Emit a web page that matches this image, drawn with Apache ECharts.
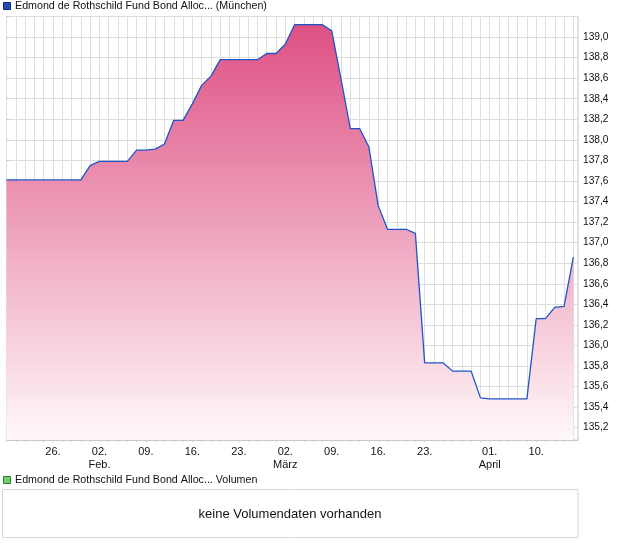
<!DOCTYPE html>
<html>
<head>
<meta charset="utf-8">
<script src="https://cdn.jsdelivr.net/npm/echarts@6/dist/echarts.min.js"></script>
<style>
html,body{margin:0;padding:0;background:#fff;}
#chart{width:620px;height:546px;}
</style>
</head>
<body>
<div id="chart"></div>
<script>
var seriesName = 'Edmond de Rothschild Fund Bond Alloc... (München)';
var volumeName = 'Edmond de Rothschild Fund Bond Alloc... Volumen';
var noVolumeText = 'keine Volumendaten vorhanden';

var dates = [
  '2026-01-19','2026-01-20','2026-01-21','2026-01-22','2026-01-23',
  '2026-01-26','2026-01-27','2026-01-28','2026-01-29','2026-01-30',
  '2026-02-02','2026-02-03','2026-02-04','2026-02-05','2026-02-06',
  '2026-02-09','2026-02-10','2026-02-11','2026-02-12','2026-02-13',
  '2026-02-16','2026-02-17','2026-02-18','2026-02-19','2026-02-20',
  '2026-02-23','2026-02-24','2026-02-25','2026-02-26','2026-02-27',
  '2026-03-02','2026-03-03','2026-03-04','2026-03-05','2026-03-06',
  '2026-03-09','2026-03-10','2026-03-11','2026-03-12','2026-03-13',
  '2026-03-16','2026-03-17','2026-03-18','2026-03-19','2026-03-20',
  '2026-03-23','2026-03-24','2026-03-25','2026-03-26','2026-03-27',
  '2026-03-30','2026-03-31',
  '2026-04-01','2026-04-02','2026-04-07','2026-04-08','2026-04-09',
  '2026-04-10','2026-04-13','2026-04-14','2026-04-15','2026-04-16'
];

var prices = [
  137.61,137.61,137.61,137.61,137.61,
  137.61,137.61,137.61,137.61,137.75,
  137.79,137.79,137.79,137.79,137.90,
  137.90,137.91,137.96,138.19,138.19,
  138.35,138.53,138.62,138.78,138.78,
  138.78,138.78,138.78,138.84,138.84,
  138.93,139.12,139.12,139.12,139.12,
  139.06,138.59,138.11,138.11,137.93,
  137.36,137.13,137.13,137.13,137.09,
  135.83,135.83,135.83,135.75,135.75,
  135.75,135.49,
  135.48,135.48,135.48,135.48,135.48,
  136.26,136.26,136.37,136.38,136.86
];

var tickDates  = ['2026-01-26','2026-02-02','2026-02-09','2026-02-16','2026-02-23','2026-03-02','2026-03-09','2026-03-16','2026-03-23','2026-04-01','2026-04-10'];
var tickLabels = ['26.','02.\nFeb.','09.','16.','23.','02.\nMärz','09.','16.','23.','01.\nApril','10.'];

var yMin = 135.08, yMax = 139.2;

var labelByIndex = {};
tickDates.forEach(function (d, k) {
  var idx = dates.indexOf(d);
  if (idx >= 0) labelByIndex[idx] = tickLabels[k];
});

var points = prices.map(function (p, i) { return [i, p]; });

var chart = echarts.init(document.getElementById('chart'));
var fontFamily = '"Liberation Sans", Arial, sans-serif';

chart.setOption({
  animation: false,
  backgroundColor: '#ffffff',
  grid: {
    left: 6.5, right: 42, top: 16.5, bottom: 106,
    show: true, borderColor: '#c8c8c8', borderWidth: 1, backgroundColor: 'transparent'
  },
  xAxis: {
    type: 'value',
    min: 0, max: dates.length - 0.5,
    interval: 1,
    axisLine: { show: true, lineStyle: { color: '#c8c8c8' } },
    axisTick: { show: true, length: 2, lineStyle: { color: '#cfcfcf' } },
    splitLine: { show: true, lineStyle: { color: '#dedede', width: 1 } },
    axisLabel: {
      show: true, margin: 5, color: '#111', fontSize: 11, lineHeight: 13,
      fontFamily: fontFamily, showMaxLabel: false, showMinLabel: true,
      formatter: function (v) {
        if (Math.abs(v - Math.round(v)) > 1e-6) return '';
        return labelByIndex[Math.round(v)] || '';
      }
    }
  },
  yAxis: {
    type: 'value',
    position: 'right',
    min: yMin, max: yMax,
    splitNumber: 20,
    scale: true,
    axisLine: { show: false },
    axisTick: { show: true, length: 3, lineStyle: { color: '#c8c8c8' } },
    splitLine: { show: true, lineStyle: { color: '#dedede', width: 1 } },
    axisLabel: {
      show: true, margin: 5, color: '#111', fontSize: 10.2, fontFamily: fontFamily,
      formatter: function (v) {
        if (Math.abs(v * 5 - Math.round(v * 5)) > 1e-6) return '';
        if (v > 139.1) return '';
        return v.toFixed(1).replace('.', ',');
      }
    }
  },
  series: [{
    name: seriesName,
    type: 'line',
    data: points,
    symbol: 'none',
    smooth: false,
    lineStyle: { color: '#1c55c8', width: 1.3 },
    itemStyle: { color: '#1c55c8' },
    areaStyle: {
      origin: 'start',
      opacity: 1,
      color: new echarts.graphic.LinearGradient(0, 0, 0, 1, [
        { offset: 0, color: '#de5084' },
        { offset: 1, color: '#fff8fa' }
      ])
    },
    z: 3
  }],
  graphic: [
    { type: 'rect', shape: { x: 3.5, y: 2.5, width: 7, height: 7 }, style: { fill: '#1f4fb4', stroke: '#0f2a70', lineWidth: 1 } },
    { type: 'text', x: 15, y: 6.5, style: { text: seriesName, fill: '#111', font: '10.7px ' + fontFamily, verticalAlign: 'middle', align: 'left' } },
    { type: 'rect', shape: { x: 3.5, y: 476.5, width: 7, height: 7 }, style: { fill: '#6fcf6f', stroke: '#2f7f2f', lineWidth: 1 } },
    { type: 'text', x: 15, y: 480.5, style: { text: volumeName, fill: '#111', font: '10.7px ' + fontFamily, verticalAlign: 'middle', align: 'left' } },
    { type: 'rect', shape: { x: 2.5, y: 489.5, width: 575.5, height: 48 }, style: { fill: '#ffffff', stroke: '#d8d8d8', lineWidth: 1 } },
    { type: 'text', x: 290, y: 514, style: { text: noVolumeText, fill: '#111', font: '13px ' + fontFamily, verticalAlign: 'middle', align: 'center' } }
  ]
});
</script>
</body>
</html>
